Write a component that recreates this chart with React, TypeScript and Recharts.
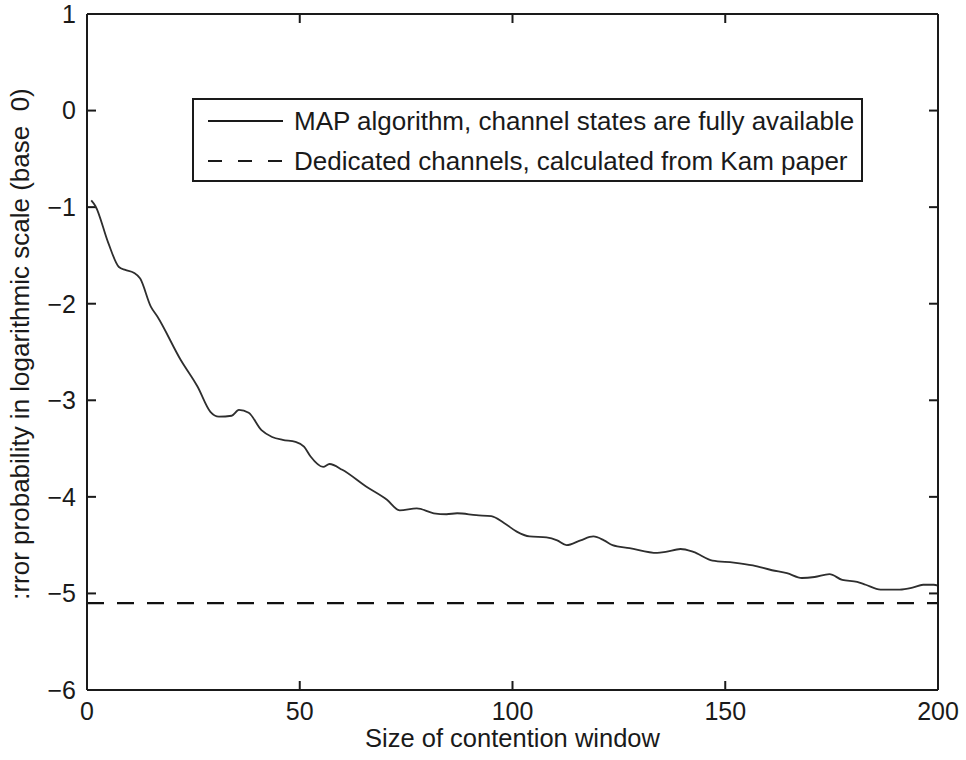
import React from "react";
import { LineChart, Line, XAxis, YAxis, Legend, Label, ReferenceLine } from "recharts";

// window size (x) and log10 error probability
const windowSizes = [
  1, 2, 5, 7.5, 9, 11, 12.5, 15, 16.5, 22, 26, 29, 31, 34, 35.7, 38, 41, 43.5, 46, 49,
  51, 52.5, 55.5, 57, 60, 65.5, 70.5, 73.5, 77.5, 81.5, 84.5, 87, 91.5, 95, 98, 101,
  104, 108, 110.5, 112.7, 116, 119, 121.5, 123.5, 127.5, 134, 136, 139.5, 142.5, 147,
  152, 156.5, 161, 164.5, 168, 171, 174.5, 177.5, 181, 183, 186.5, 191, 194, 196.5, 199, 200,
];
const mapLogError = [
  -0.93, -0.99, -1.37, -1.62, -1.65, -1.68, -1.74, -2.03, -2.13, -2.58, -2.86, -3.12, -3.17,
  -3.16, -3.1, -3.13, -3.31, -3.38, -3.41, -3.43, -3.48, -3.58, -3.69, -3.66, -3.72, -3.89,
  -4.03, -4.14, -4.12, -4.17, -4.18, -4.17, -4.19, -4.2, -4.27, -4.36, -4.41, -4.42, -4.45,
  -4.5, -4.45, -4.41, -4.45, -4.5, -4.53, -4.58, -4.57, -4.54, -4.57, -4.66, -4.68, -4.71,
  -4.76, -4.79, -4.84, -4.83, -4.8, -4.86, -4.88, -4.91, -4.96, -4.96, -4.94, -4.91, -4.91, -4.92,
];
const dedicatedLogError = -5.1;
const xDomain = [0, 200];
const yDomain = [-6, 1];
const xTicks = [0, 50, 100, 150, 200];
const yTicks = [-6, -5, -4, -3, -2, -1, 0, 1];
const seriesNames = [
  "MAP algorithm, channel states are fully available",
  "Dedicated channels, calculated from Kam paper",
];
const xLabel = "Size of contention window";
const yLabel = ":rror probability in logarithmic scale (base\u00a0 0)";

const mapData = windowSizes.map((x, i) => ({ x, y: mapLogError[i] }));
const dedicatedData = xDomain.map((x) => ({ x, y: dedicatedLogError }));

const FONT = "'Liberation Sans', Arial, Helvetica, sans-serif";
const INK = "#1a1a1a";
const TICK_LEN = 9;
const tickStyle = { fill: INK, fontSize: 25, fontFamily: FONT };
const fmt = (v: number) => (v < 0 ? "\u2212" + Math.abs(v) : String(v));

// draws only the two inward stubs at the ends of a grid line (matlab box ticks)
const vStubs = (p: any) => {
  const top = Math.min(p.y1, p.y2);
  const bot = Math.max(p.y1, p.y2);
  return (
    <g stroke={INK} strokeWidth={2}>
      <line x1={p.x1} y1={top} x2={p.x1} y2={top + TICK_LEN} />
      <line x1={p.x1} y1={bot} x2={p.x1} y2={bot - TICK_LEN} />
    </g>
  );
};
const hStubs = (p: any) => {
  const left = Math.min(p.x1, p.x2);
  const right = Math.max(p.x1, p.x2);
  return (
    <g stroke={INK} strokeWidth={2}>
      <line x1={left} y1={p.y1} x2={left + TICK_LEN} y2={p.y1} />
      <line x1={right} y1={p.y1} x2={right - TICK_LEN} y2={p.y1} />
    </g>
  );
};

const renderLegend = () => (
  <div
    style={{
      boxSizing: "border-box",
      width: 671,
      height: 84,
      border: `2px solid ${INK}`,
      background: "#fff",
      paddingTop: 1,
      fontFamily: FONT,
      fontSize: 26,
      color: INK,
    }}
  >
    {seriesNames.map((name, i) => (
      <div key={name} style={{ display: "flex", alignItems: "center", height: 40 }}>
        <svg width={75} height={10} style={{ marginLeft: 14, marginRight: 11 }}>
          <line
            x1={0}
            y1={5}
            x2={75}
            y2={5}
            stroke={INK}
            strokeWidth={2}
            strokeDasharray={i === 1 ? "14 16" : undefined}
          />
        </svg>
        <span style={{ whiteSpace: "nowrap" }}>{name}</span>
      </div>
    ))}
  </div>
);

// mirrored top/right axes close the box
const boxAxis = {
  type: "number" as const,
  mirror: true,
  stroke: INK,
  strokeWidth: 2,
  tickLine: false,
  tick: false,
};

export default function App() {
  return (
    <div style={{ position: "absolute", left: 0, top: 0, background: "#fff" }}>
      <LineChart width={966} height={760} margin={{ top: 14, right: 28, bottom: 0, left: 0 }}>
        <XAxis
          dataKey="x"
          type="number"
          domain={xDomain}
          ticks={xTicks}
          interval={0}
          height={70}
          stroke={INK}
          strokeWidth={2}
          tickLine={false}
          tickSize={0}
          tickMargin={12}
          tick={tickStyle}
          tickFormatter={fmt}
        >
          <Label
            value={xLabel}
            position="insideBottom"
            offset={13}
            style={{ fill: INK, fontSize: 25.5, fontFamily: FONT }}
          />
        </XAxis>
        <XAxis xAxisId="top" orientation="top" domain={xDomain} ticks={xTicks} {...boxAxis} />
        <YAxis
          type="number"
          domain={yDomain}
          ticks={yTicks}
          interval={0}
          width={87}
          stroke={INK}
          strokeWidth={2}
          tickLine={false}
          tickSize={0}
          tickMargin={11}
          tick={tickStyle}
          tickFormatter={fmt}
        >
          <Label
            value={yLabel}
            position="center"
            angle={-90}
            dx={-24}
            dy={-8}
            style={{ fill: INK, fontSize: 26, fontFamily: FONT }}
          />
        </YAxis>
        <YAxis yAxisId="right" orientation="right" domain={yDomain} ticks={yTicks} {...boxAxis} />
        {xTicks.map((t) => (
          <ReferenceLine key={"xt" + t} x={t} ifOverflow="extendDomain" shape={vStubs} />
        ))}
        {yTicks.map((t) => (
          <ReferenceLine key={"yt" + t} y={t} ifOverflow="extendDomain" shape={hStubs} />
        ))}
        <Legend
          layout="horizontal"
          verticalAlign="middle"
          align="center"
          content={renderLegend}
          wrapperStyle={{ left: 192, top: 98, width: 671, height: 84 }}
        />
        <Line
          data={mapData}
          dataKey="y"
          name={seriesNames[0]}
          type="monotone"
          stroke="#2e2e2e"
          strokeWidth={1.8}
          dot={false}
          isAnimationActive={false}
        />
        <Line
          data={dedicatedData}
          dataKey="y"
          name={seriesNames[1]}
          type="linear"
          stroke="#111"
          strokeWidth={2.4}
          strokeDasharray="17 13"
          dot={false}
          isAnimationActive={false}
        />
      </LineChart>
    </div>
  );
}
